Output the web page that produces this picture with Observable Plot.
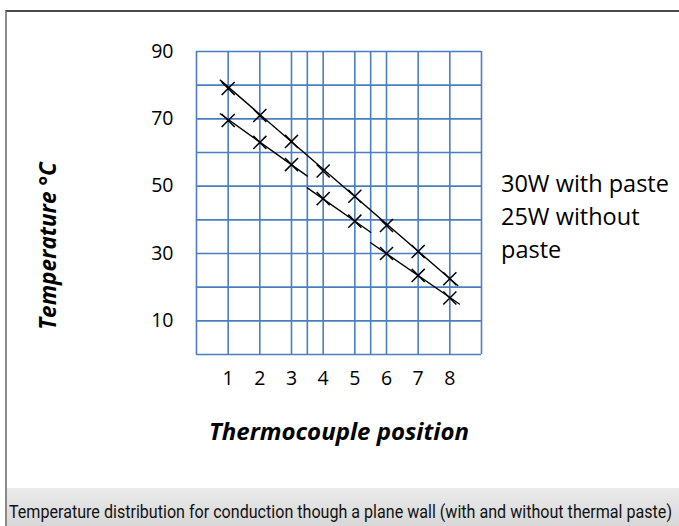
<!DOCTYPE html>
<html>
<head>
<meta charset="utf-8">
<script src="https://cdn.jsdelivr.net/npm/d3@7"></script>
<script src="https://cdn.jsdelivr.net/npm/@observablehq/plot@0.6"></script>
<style>
  html, body { margin: 0; padding: 0; background: #fff; }
  #wrap { position: relative; width: 679px; height: 526px; overflow: hidden; background: #fff; }
  #frame { position: absolute; left: 5px; top: 10px; width: 700px; height: 540px;
           border-top: 2px solid #4a4a4a; border-left: 2px solid #8a8a8a; box-sizing: border-box; }
  #chart { position: absolute; left: 0; top: 0; }
  #band { position: absolute; left: 7px; top: 488px; width: 680px; height: 40px;
          background: linear-gradient(#ebebeb, #d7d7d7); }
  #caption { position: absolute; left: 9px; top: 503px; font-family: "Roboto", "Liberation Sans", sans-serif;
             font-size: 18px; line-height: 18px; white-space: nowrap; color: #111; transform-origin: 0 0; }
  .title { position: absolute; font-family: "Open Sans", sans-serif; font-weight: 700; font-style: italic;
           white-space: nowrap; color: #000; }
  #ylab { left: 47px; top: 246px; font-size: 22.5px; transform: translate(-50%, -50%) rotate(-90deg); }
  #xlab { left: 339px; top: 430px; font-size: 24px; transform: translate(-50%, -50%); }
  #legend { position: absolute; left: 501px; top: 167px; font-family: "Open Sans", sans-serif; font-size: 23.5px;
            line-height: 33px; color: #000; }
</style>
</head>
<body>
<div id="wrap">
  <div id="band"></div>
  <div id="frame"></div>
  <div id="chart"></div>
  <div class="title" id="ylab">Temperature &#176;C</div>
  <div class="title" id="xlab">Thermocouple position</div>
  <div id="legend">30W with paste<br>25W without<br>paste</div>
  <div id="caption">Temperature distribution for conduction though a plane wall (with and without thermal paste)</div>
</div>
<script>
// Thermocouple positions and measured temperatures (°C)
const positions = [1, 2, 3, 4, 5, 6, 7, 8];
const withPaste30W = [79, 71, 63.3, 54.5, 47, 38.3, 30.6, 22.5];
const withoutPaste25W = [69.5, 63, 56.4, 46.3, 39.6, 30, 23.5, 16.8];

// Hand-drawn trend lines (segment id, x, y)
const fitSegment = ["30W", "30W", "25W-a", "25W-a", "25W-b", "25W-b", "25W-c", "25W-c"];
const fitX = [0.75, 8.25, 0.75, 3.5, 3.5, 5.5, 5.5, 8.3];
const fitY = [81.5, 20.5, 71.5, 53, 49.5, 36.3, 33.2, 15];

// Axis ticks and grid
const xTicks = [1, 2, 3, 4, 5, 6, 7, 8];
const yTicks = [10, 30, 50, 70, 90];
const xGrid = [0, 1, 2, 3, 3.5, 4, 5, 5.5, 6, 7, 8, 9];
const yGrid = [0, 10, 20, 30, 40, 50, 60, 70, 80, 90];

const gridColor = "#4a7ebf";
const fitIdx = d3.range(fitX.length);

const chart = Plot.plot({
  width: 679,
  height: 488,
  marginTop: 51,
  marginBottom: 134,
  marginLeft: 196,
  marginRight: 198,
  x: { domain: [0, 9] },
  y: { domain: [0, 90] },
  style: { background: "transparent", fontFamily: "'Open Sans', sans-serif", fontSize: "19.5px", color: "#000" },
  marks: [
    Plot.ruleX(xGrid, { stroke: gridColor, strokeWidth: 1.6 }),
    Plot.ruleY(yGrid, { stroke: gridColor, strokeWidth: 1.6 }),
    Plot.line(fitIdx, { x: i => fitX[i], y: i => fitY[i], z: i => fitSegment[i], stroke: "#000", strokeWidth: 1.4 }),
    Plot.dot(positions, { x: positions, y: withPaste30W, symbol: "times", r: 6, stroke: "#000", strokeWidth: 1.5 }),
    Plot.dot(positions, { x: positions, y: withoutPaste25W, symbol: "times", r: 6, stroke: "#000", strokeWidth: 1.5 }),
    Plot.axisX({ ticks: xTicks, tickSize: 0, tickPadding: 17, label: null, tickFormat: d => String(d) }),
    Plot.axisY({ ticks: yTicks, tickSize: 0, tickPadding: 23, label: null, tickFormat: d => String(d) })
  ]
});
document.getElementById("chart").appendChild(chart);

// Fit the caption to the band width (condensed look)
const cap = document.getElementById("caption");
const w = cap.getBoundingClientRect().width;
cap.style.transform = `scaleX(${663 / w})`;
</script>
</body>
</html>
